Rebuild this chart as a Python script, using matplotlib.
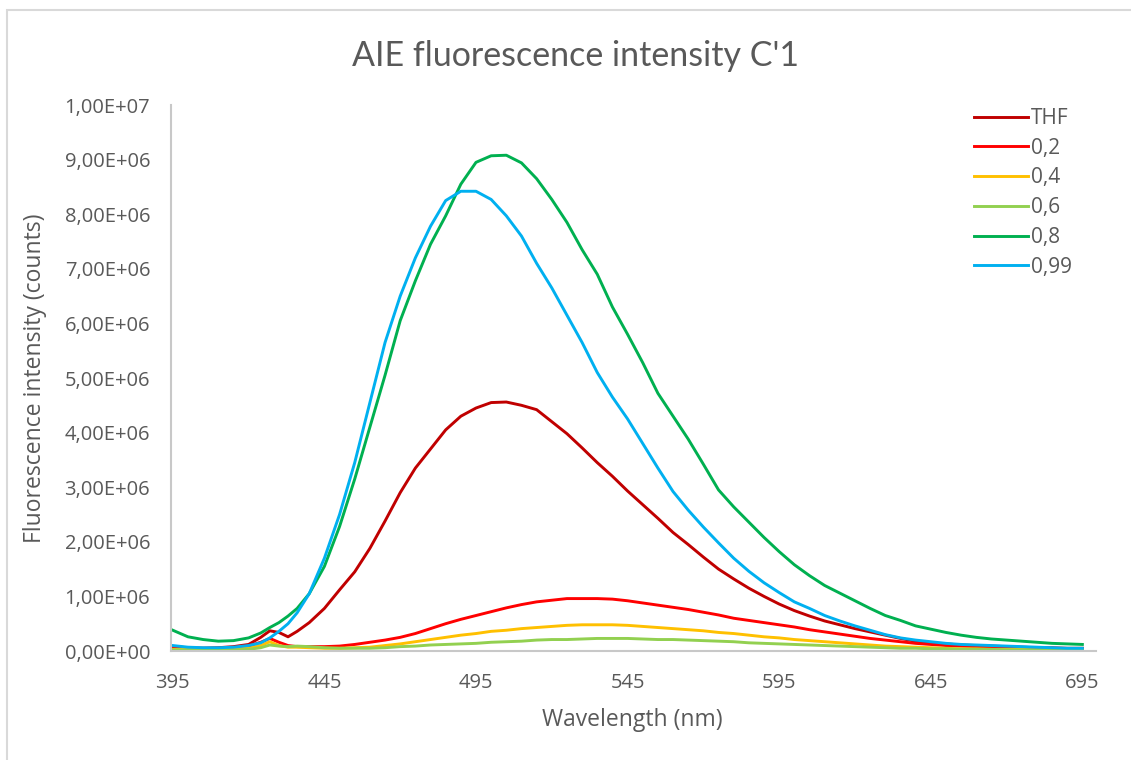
import matplotlib
matplotlib.use("Agg")
import matplotlib.pyplot as plt
from matplotlib.patches import Rectangle

# ---------------- data ----------------
wavelength = [395, 400, 405, 410, 415, 420, 424, 427, 430, 433, 436, 440,
              445, 450, 455, 460, 465, 470, 475, 480, 485, 490, 495, 500,
              505, 510, 515, 520, 525, 530, 535, 540, 545, 550, 555, 560,
              565, 570, 575, 580, 585, 590, 595, 600, 605, 610, 615, 620,
              625, 630, 635, 640, 645, 650, 655, 660, 665, 670, 675, 680,
              685, 690, 695]

# intensities in units of 1e6 counts
thf = [0.08, 0.06, 0.05, 0.06, 0.08, 0.12, 0.25, 0.37, 0.34, 0.26, 0.36, 0.52,
       0.78, 1.12, 1.45, 1.88, 2.38, 2.90, 3.35, 3.70, 4.05, 4.30, 4.45, 4.55,
       4.56, 4.50, 4.42, 4.20, 3.98, 3.72, 3.45, 3.20, 2.93, 2.68, 2.43, 2.17,
       1.95, 1.72, 1.50, 1.32, 1.15, 1.00, 0.86, 0.74, 0.64, 0.55, 0.48, 0.41,
       0.35, 0.29, 0.23, 0.18, 0.15, 0.13, 0.11, 0.10, 0.09, 0.08, 0.07, 0.06,
       0.06, 0.05, 0.05]

f02 = [0.05, 0.05, 0.05, 0.05, 0.06, 0.09, 0.16, 0.23, 0.16, 0.10, 0.08, 0.08,
       0.08, 0.09, 0.12, 0.16, 0.20, 0.25, 0.32, 0.41, 0.50, 0.58, 0.65, 0.72,
       0.79, 0.85, 0.90, 0.93, 0.96, 0.96, 0.96, 0.95, 0.92, 0.88, 0.84, 0.80,
       0.76, 0.71, 0.66, 0.60, 0.56, 0.52, 0.48, 0.44, 0.39, 0.35, 0.31, 0.27,
       0.23, 0.20, 0.17, 0.14, 0.12, 0.10, 0.09, 0.08, 0.07, 0.06, 0.05, 0.05,
       0.04, 0.04, 0.04]

f04 = [0.03, 0.03, 0.03, 0.03, 0.04, 0.05, 0.10, 0.17, 0.10, 0.07, 0.07, 0.06,
       0.05, 0.05, 0.06, 0.07, 0.10, 0.13, 0.17, 0.21, 0.25, 0.29, 0.32, 0.36,
       0.38, 0.41, 0.43, 0.45, 0.47, 0.48, 0.48, 0.48, 0.47, 0.45, 0.43, 0.41,
       0.39, 0.37, 0.34, 0.32, 0.29, 0.26, 0.24, 0.21, 0.19, 0.17, 0.15, 0.13,
       0.11, 0.09, 0.08, 0.07, 0.06, 0.05, 0.04, 0.04, 0.03, 0.03, 0.03, 0.02,
       0.02, 0.02, 0.02]

f06 = [0.02, 0.02, 0.02, 0.02, 0.02, 0.03, 0.06, 0.11, 0.09, 0.08, 0.09, 0.08,
       0.06, 0.05, 0.05, 0.05, 0.06, 0.08, 0.09, 0.11, 0.12, 0.13, 0.14, 0.16,
       0.17, 0.18, 0.20, 0.21, 0.21, 0.22, 0.23, 0.23, 0.23, 0.22, 0.21, 0.21,
       0.20, 0.19, 0.18, 0.17, 0.15, 0.14, 0.13, 0.12, 0.11, 0.10, 0.09, 0.08,
       0.07, 0.06, 0.05, 0.05, 0.04, 0.04, 0.03, 0.03, 0.03, 0.02, 0.02, 0.02,
       0.02, 0.02, 0.02]

f08 = [0.38, 0.26, 0.21, 0.18, 0.19, 0.24, 0.33, 0.43, 0.52, 0.64, 0.78, 1.05,
       1.55, 2.28, 3.15, 4.10, 5.05, 6.05, 6.78, 7.45, 7.97, 8.55, 8.95, 9.07,
       9.08, 8.94, 8.65, 8.27, 7.85, 7.35, 6.90, 6.30, 5.80, 5.28, 4.72, 4.30,
       3.88, 3.42, 2.95, 2.64, 2.36, 2.08, 1.82, 1.58, 1.38, 1.20, 1.06, 0.92,
       0.78, 0.65, 0.56, 0.46, 0.40, 0.34, 0.29, 0.25, 0.22, 0.20, 0.18, 0.16,
       0.14, 0.13, 0.12]

f099 = [0.10, 0.07, 0.06, 0.06, 0.07, 0.10, 0.15, 0.24, 0.36, 0.50, 0.70, 1.05,
        1.70, 2.50, 3.45, 4.55, 5.65, 6.50, 7.20, 7.78, 8.25, 8.42, 8.42, 8.27,
        7.97, 7.60, 7.10, 6.65, 6.15, 5.65, 5.10, 4.65, 4.25, 3.80, 3.35, 2.92,
        2.58, 2.27, 1.98, 1.70, 1.46, 1.25, 1.07, 0.90, 0.78, 0.65, 0.55, 0.46,
        0.38, 0.30, 0.24, 0.20, 0.17, 0.14, 0.12, 0.11, 0.10, 0.09, 0.08, 0.07,
        0.06, 0.05, 0.05]

series_labels = ["THF", "0,2", "0,4", "0,6", "0,8", "0,99"]
series_colors = ["#C00000", "#FF0000", "#FFC000", "#92D050", "#00B050", "#00B0F0"]

x_ticks = [395, 445, 495, 545, 595, 645, 695]
y_ticks = [0, 1e6, 2e6, 3e6, 4e6, 5e6, 6e6, 7e6, 8e6, 9e6, 1e7]
y_tick_labels = ["0,00E+00", "1,00E+06", "2,00E+06", "3,00E+06", "4,00E+06",
                 "5,00E+06", "6,00E+06", "7,00E+06", "8,00E+06", "9,00E+06",
                 "1,00E+07"]

title = "AIE fluorescence intensity C'1"
x_label = "Wavelength (nm)"
y_label = "Fluorescence intensity (counts)"

# ---------------- figure ----------------
W, H = 1131, 760
plt.rcParams['font.family'] = ['Open Sans', 'DejaVu Sans']
fig = plt.figure(figsize=(W / 100, H / 100), dpi=100)

# outer chart border
fig.patches.append(Rectangle((7 / W, -0.05), 1.2, 1 - 10 / H + 0.05,
                             transform=fig.transFigure, fill=False,
                             edgecolor="#D9D9D9", linewidth=1.5))

left, right, bottom, top = 171 / W, 1096 / W, 1 - 651 / H, 1 - 105 / H
ax = fig.add_axes([left, bottom, right - left, top - bottom])

all_series = [thf, f02, f04, f06, f08, f099]
for vals, lab, col in zip(all_series, series_labels, series_colors):
    ax.plot(wavelength, [v * 1e6 for v in vals], color=col, lw=2.1,
            label=lab, solid_joinstyle="round")

ax.set_xlim(394.4, 699.5)
ax.set_ylim(0, 1e7)
ax.set_xticks(x_ticks)
ax.set_xticklabels([str(t) for t in x_ticks])
ax.set_yticks(y_ticks)
ax.set_yticklabels(y_tick_labels)
ax.tick_params(length=0, labelsize=14.5, colors="#595959")
ax.tick_params(axis='y', pad=15)
ax.tick_params(axis='x', pad=16)

for s in ["top", "right"]:
    ax.spines[s].set_visible(False)
for s in ["left", "bottom"]:
    ax.spines[s].set_color("#C8C8C8")
    ax.spines[s].set_linewidth(1.5)

fig.text(575 / W, 1 - 56 / H, title, ha="center", va="center",
         fontsize=24.5, color="#595959", fontweight="normal",
         family=["Lato", "DejaVu Sans"])
fig.text(632 / W, 1 - 720 / H, x_label, ha="center", va="center",
         fontsize=16.5, color="#595959")
fig.text(35 / W, 1 - 378 / H, y_label, ha="center", va="center",
         rotation=90, fontsize=16.5, color="#595959")

leg = ax.legend(loc="upper left", bbox_to_anchor=(974 / W, 1 - 108 / H),
                bbox_transform=fig.transFigure, frameon=False,
                fontsize=15, handlelength=2.6, handletextpad=0.15,
                labelspacing=0.42, borderpad=0, borderaxespad=0)
for t in leg.get_texts():
    t.set_color("#595959")

fig.savefig("out.png", dpi=100)
